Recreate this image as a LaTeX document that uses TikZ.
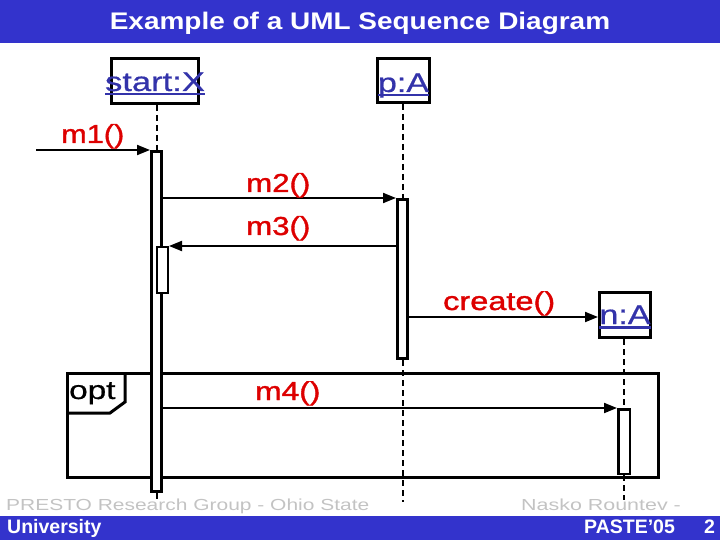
\documentclass[tikz,border=0pt]{standalone}
\usepackage{fontspec}
\setmainfont{Liberation Sans}
\newfontfamily\heavyfont[FakeBold=1.2]{Liberation Sans}
\newfontfamily\midfont[FakeBold=0.6]{Liberation Sans}
\usetikzlibrary{arrows.meta}
\definecolor{barblue}{RGB}{51,51,204}
\definecolor{nameblue}{RGB}{51,51,170}
\definecolor{msgred}{RGB}{221,0,0}
\definecolor{footgray}{RGB}{195,195,195}
\newcommand\ulbox[1]{\setbox0=\hbox{#1}\rlap{\raisebox{-4.5pt}{\rule{\wd0}{2.2pt}}}\box0}
\newcommand\sx[2]{\scalebox{#1}[1]{#2}}
\begin{document}
\begin{tikzpicture}[x=1pt,y=-1pt,
  bar/.style={fill=barblue,draw=none,inner sep=0pt,anchor=north west},
  obj/.style={draw,line width=3pt,inner sep=0pt,text=nameblue,font=\midfont\fontsize{27}{30}\selectfont},
  act/.style={draw,fill=white,inner sep=0pt},
  life/.style={line width=2pt,dash pattern=on 6pt off 4pt},
  msg/.style={line width=2pt,-{Triangle[length=13pt,width=10pt]}},
  lbl/.style={text=msgred,font=\heavyfont\fontsize{26}{28}\selectfont,inner sep=0pt,anchor=base west},
  foot/.style={text=white,font=\bfseries\fontsize{19.5}{21}\selectfont,inner sep=0pt,anchor=base west},
  gfoot/.style={text=footgray,font=\fontsize{16}{18}\selectfont,inner sep=0pt,anchor=base west},
]
\useasboundingbox (0,0) rectangle (720,540);
% bars
\node[bar,minimum width=720pt,minimum height=43pt] (topbar) at (0,0) {};
\node[bar,minimum width=720pt,minimum height=24pt] (botbar) at (0,516) {};
\node[text=white,font=\bfseries\fontsize{24}{26}\selectfont,inner sep=0pt,anchor=base] (title) at (360,29.5) {\sx{1.165}{Example of a UML Sequence Diagram}};
% opt frame
\node[draw,line width=3pt,inner sep=0pt,minimum width=591pt,minimum height=104pt,anchor=north west] (frame) at (66,372) {};
\draw[line width=3pt] (125,372) -- (125,402) -- (110,413) -- (66,413);
\node[inner sep=0pt,anchor=base west,font=\midfont\fontsize{26}{28}\selectfont] (optl) at (69,399) {\sx{1.28}{opt}};
% objects
\node[obj,minimum width=87pt,minimum height=45pt,text height=22pt,text depth=2pt] (sX) at (155,81) {\makebox[0pt]{\ulbox{\sx{1.28}{start:X}}}};
\node[obj,minimum width=52pt,minimum height=44pt,text height=24pt,text depth=1pt] (pA) at (403.5,80.5) {\makebox[0pt]{\ulbox{\sx{1.26}{p:A}}}};
\node[obj,minimum width=51pt,minimum height=45pt,text height=20pt,text depth=2pt] (nA) at (625,315) {\makebox[0pt]{\ulbox{\sx{1.26}{n:A}}}};
% activations
\node[act,line width=3pt,minimum width=10pt,minimum height=340pt] (actS) at (156.5,321.5) {};
\node[act,line width=2pt,minimum width=11pt,minimum height=46pt] (actS2) at (162.5,270) {};
\node[act,line width=3pt,minimum width=10pt,minimum height=159pt] (actP) at (402.5,279) {};
\node[act,line width=2.5pt,minimum width=11.5pt,minimum height=64.5pt] (actN) at (624,441.5) {};
% lifelines
\coordinate (sEnd) at (156.5,500);
\coordinate (pEnd) at (402.5,502);
\coordinate (nEnd) at (624,500);
\draw[life] (actS.north |- sX.south) -- (actS.north);
\draw[life] (actS.south) -- (sEnd);
\draw[life] (actP.north |- pA.south) -- (actP.north);
\draw[life] (actP.south) -- (pEnd);
\draw[life] (actN.north |- nA.south) -- (actN.north);
\draw[life] (actN.south) -- (nEnd);
% messages
\coordinate (m1s) at (36,150);
\draw[msg] (m1s) -- (actS.north west);
\draw[msg] (actS.east |- actP.north west) -- (actP.north west);
\draw[msg] (actP.west |- actS2.north east) -- (actS2.north east);
\draw[msg] ([yshift=-2pt]actP.east |- nA.west) -- ([yshift=-2pt]nA.west);
\draw[msg] (actS.east |- actN.north west) -- (actN.north west);
% message labels
\node[lbl] (l1) at (61,143) {\sx{1.18}{m1()}};
\node[lbl] (l2) at (246,192) {\sx{1.2}{m2()}};
\node[lbl] (l3) at (246,235) {\sx{1.2}{m3()}};
\node[lbl] (l4) at (443,310) {\sx{1.25}{create()}};
\node[lbl] (l5) at (255,400) {\sx{1.22}{m4()}};
% footer
\node[gfoot] (f1) at (6,510) {\sx{1.31}{PRESTO Research Group - Ohio State}};
\node[gfoot] (f2) at (521,510) {\sx{1.34}{Nasko Rountev -}};
\node[foot] (f3) at (7,533) {University};
\node[foot] (f4) at (584,533) {PASTE'05};
\node[foot] (f5) at (704,533) {2};
\end{tikzpicture}
\end{document}
